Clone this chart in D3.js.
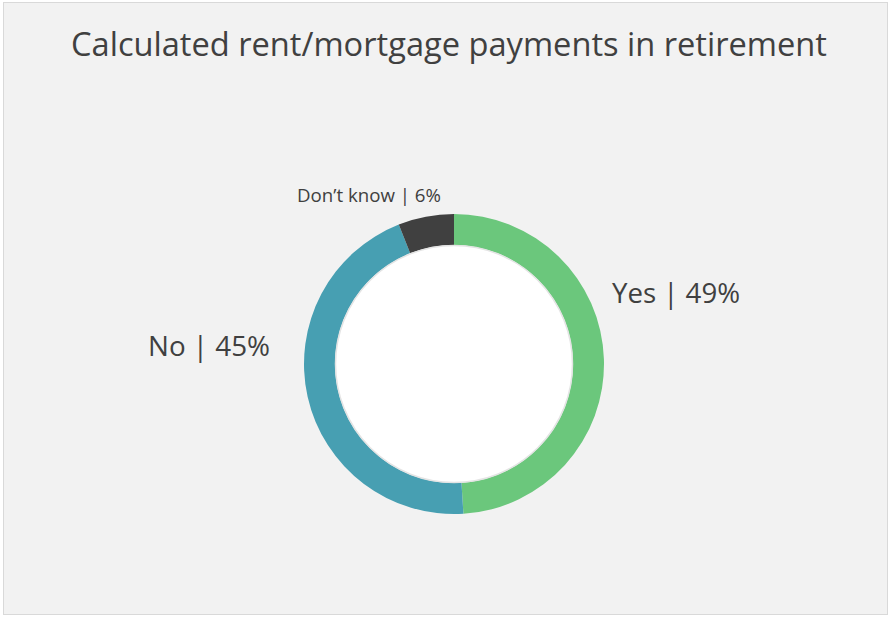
<!DOCTYPE html>
<html>
<head>
<meta charset="utf-8">
<script src="https://cdn.jsdelivr.net/npm/d3@7"></script>
<style>
  html, body { margin: 0; padding: 0; background: #fff; }
  svg { display: block; font-family: "Open Sans", "Noto Sans", sans-serif; }
</style>
</head>
<body>
<script>
const title = 'Calculated rent/mortgage payments in retirement';
const categories = ['Yes', 'No', 'Don’t know'];
const values = [49, 45, 6];
const colors = ['#6BC77C', '#479FB2', '#404040'];

const W = 890, H = 617;
const cx = 454, cy = 364;
const outerR = 150, innerR = 119;

const svg = d3.select('body').append('svg')
    .attr('width', W)
    .attr('height', H);

// chart frame
svg.append('rect')
    .attr('x', 3.5).attr('y', 2.5)
    .attr('width', W - 6).attr('height', H - 5)
    .attr('fill', '#f2f2f2')
    .attr('stroke', '#d9d9d9');

// shrink/grow the font so text spans roughly the wanted width
function fitText(sel, width) {
    const size = parseFloat(sel.attr('font-size'));
    const len = sel.node().getComputedTextLength();
    sel.attr('font-size', (size * width / len).toFixed(2));
}

const t = svg.append('text')
    .attr('x', 449).attr('y', 56)
    .attr('text-anchor', 'middle')
    .attr('font-size', 30)
    .attr('fill', '#404040')
    .text(title);
fitText(t, 756);

const pie = d3.pie().sort(null).value(d => d)(values);
const arc = d3.arc().innerRadius(innerR).outerRadius(outerR);

const g = svg.append('g').attr('transform', `translate(${cx},${cy})`);

g.selectAll('path.slice')
    .data(pie)
    .join('path')
    .attr('class', 'slice')
    .attr('d', arc)
    .attr('fill', (d, i) => colors[i]);

// white hole with a soft edge
g.append('circle')
    .attr('r', innerR - 0.5)
    .attr('fill', '#fff')
    .attr('stroke', '#e4e4e4')
    .attr('stroke-width', 1.5);

// label placement, relative to donut centre
const labelLayout = [
    { dx: 158, dy: -61, anchor: 'start', size: 24, width: 128 },
    { dx: -184, dy: -8, anchor: 'end', size: 24, width: 122 },
    { dx: -85, dy: -162, anchor: 'middle', size: 15, width: 144 }
];

pie.forEach((d, i) => {
    const L = labelLayout[i];
    const lbl = g.append('text')
        .attr('x', L.dx).attr('y', L.dy)
        .attr('text-anchor', L.anchor)
        .attr('font-size', L.size)
        .attr('fill', '#404040')
        .text(`${categories[i]} | ${values[i]}%`);
    fitText(lbl, L.width);
});
</script>
</body>
</html>
